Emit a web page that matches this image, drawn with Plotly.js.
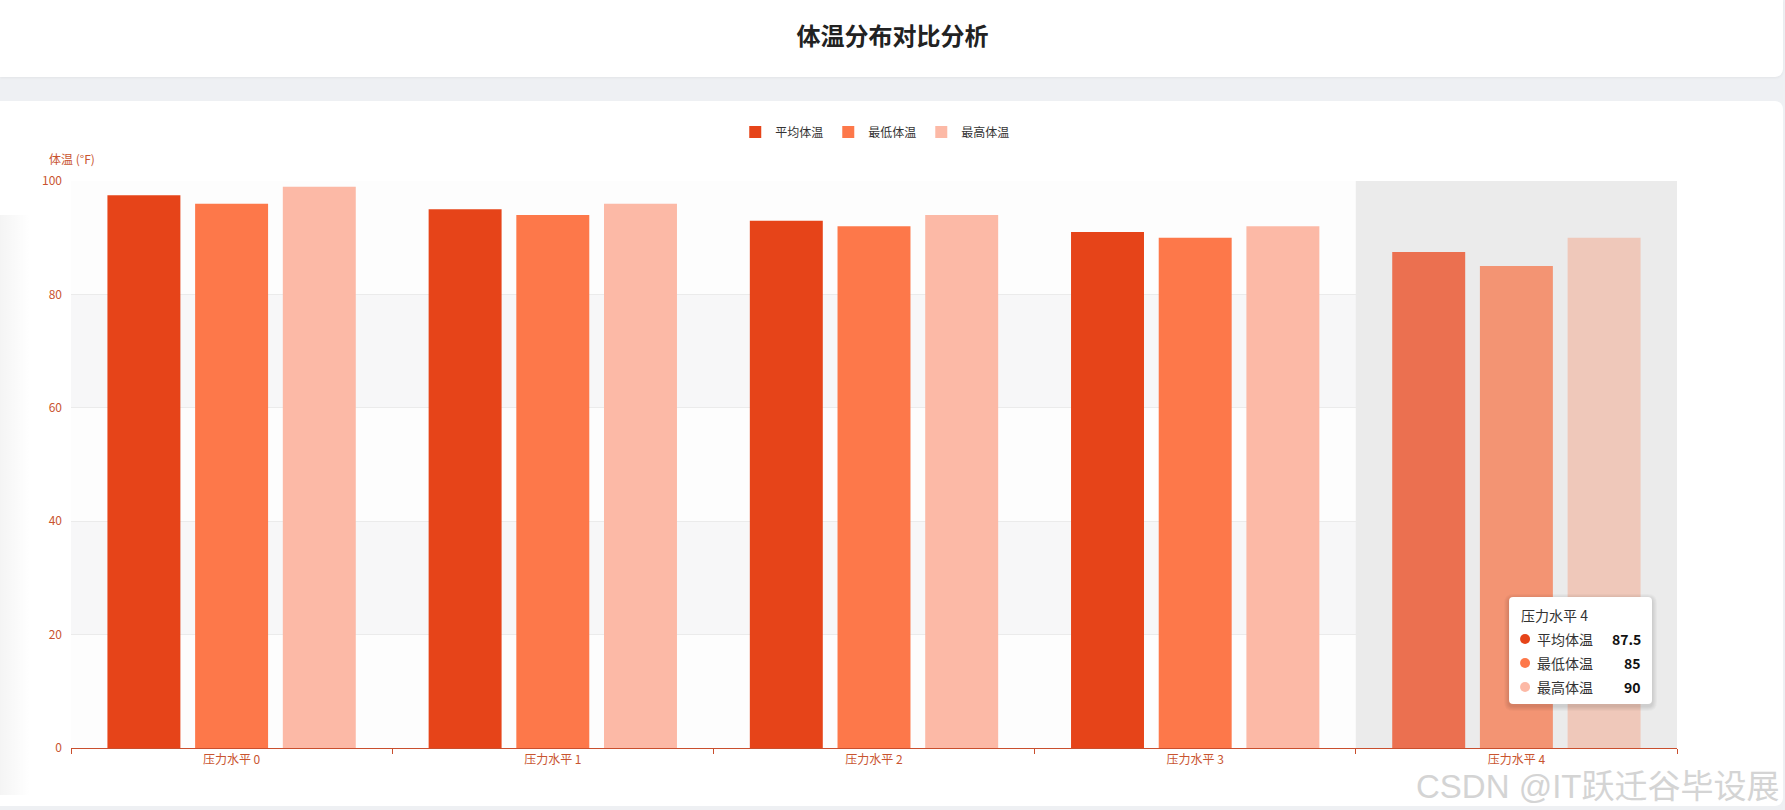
<!DOCTYPE html>
<html>
<head>
<meta charset="utf-8">
<script src="https://cdn.plot.ly/plotly-3.0.1.min.js"></script>
<style>
  html, body { margin: 0; padding: 0; width: 1785px; height: 810px; overflow: hidden; background: #eef0f3; font-family: "Noto Sans CJK SC", "Noto Sans", sans-serif; }
  #titleCard { position: absolute; left: 0; top: 0; width: 1783px; height: 77px; background: #ffffff; border-radius: 0 0 8px 0; box-shadow: 0 1px 3px rgba(0,0,0,0.05); }
  #chartCard { position: absolute; left: 0; top: 101px; width: 1783px; height: 705px; background: #ffffff; border-radius: 0 8px 8px 0; }
  #leftShade { position: absolute; left: 0; top: 215px; width: 30px; height: 580px; background: linear-gradient(to right, rgba(0,0,0,0.045), rgba(0,0,0,0)); }
  #chart { position: absolute; left: 0; top: 0; width: 1785px; height: 810px; }
</style>
</head>
<body>
<div id="titleCard"></div>
<div id="chartCard"></div>
<div id="leftShade"></div>
<div id="chart"></div>
<script>
// ---- data ----
const categories = ['压力水平 0', '压力水平 1', '压力水平 2', '压力水平 3', '压力水平 4'];
const seriesNames = ['平均体温', '最低体温', '最高体温'];
const avgTemp = [97.5, 95, 93, 91, 87.5];
const minTemp = [96, 94, 92, 90, 85];
const maxTemp = [99, 96, 94, 92, 90];
const yTicks = [0, 20, 40, 60, 80, 100];
const highlightIndex = 4;

// ---- styles ----
const baseColors = ['#e64419', '#fd784a', '#fcb9a6'];
const fadedColors = ['#eb7050', '#f39473', '#efc8ba'];
const axisColor = '#c94f2e';
const labelColor = '#c9542f';
const FONT = '"Noto Sans CJK SC", "Noto Sans", sans-serif';

// plot area in pixels
const W = 1785, H = 810;
const L = 70.5, R = 1677, T = 181, B = 748;
const px = v => (v - L) / (R - L);
const py = v => (B - v) / (B - T);

const seriesData = [avgTemp, minTemp, maxTemp];
const traces = seriesData.map((vals, s) => ({
  type: 'bar',
  name: seriesNames[s],
  x: categories,
  y: vals,
  marker: {
    color: categories.map((c, i) => i === highlightIndex ? fadedColors[s] : baseColors[s]),
    line: { width: 0 }
  },
  hoverinfo: 'none'
}));

// split area bands
const shapes = [];
for (let i = 0; i < yTicks.length - 1; i++) {
  shapes.push({
    type: 'rect', xref: 'paper', yref: 'y', x0: 0, x1: 1, y0: yTicks[i], y1: yTicks[i + 1],
    fillcolor: (i % 2 === 1) ? '#f7f7f8' : '#fdfdfd', line: { width: 0 }, layer: 'below'
  });
}
// axis pointer shadow on highlighted category
shapes.push({
  type: 'rect', xref: 'x', yref: 'y', x0: highlightIndex - 0.5, x1: highlightIndex + 0.5, y0: 0, y1: 100,
  fillcolor: '#ebebeb', line: { width: 0 }, layer: 'below'
});

// tooltip box
function roundRect(x0, y0, x1, y1, r) {
  const X = v => px(v), Y = v => py(v);
  return `M${X(x0 + r)},${Y(y0)} L${X(x1 - r)},${Y(y0)} Q${X(x1)},${Y(y0)} ${X(x1)},${Y(y0 + r)} ` +
    `L${X(x1)},${Y(y1 - r)} Q${X(x1)},${Y(y1)} ${X(x1 - r)},${Y(y1)} L${X(x0 + r)},${Y(y1)} ` +
    `Q${X(x0)},${Y(y1)} ${X(x0)},${Y(y1 - r)} L${X(x0)},${Y(y0 + r)} Q${X(x0)},${Y(y0)} ${X(x0 + r)},${Y(y0)} Z`;
}
const tx0 = 1509, ty0 = 597, tx1 = 1652, ty1 = 704;
for (let k = 5; k >= 1; k--) {
  shapes.push({ type: 'path', xref: 'paper', yref: 'paper', path: roundRect(tx0 - k, ty0 - k + 2, tx1 + k, ty1 + k + 2, 4 + k),
    fillcolor: 'rgba(0,0,0,0.022)', line: { width: 0 }, layer: 'above' });
}
shapes.push({ type: 'path', xref: 'paper', yref: 'paper', path: roundRect(tx0, ty0, tx1, ty1, 4),
  fillcolor: '#ffffff', line: { width: 0 }, layer: 'above' });

const rowY = [639, 663, 687];
const annotations = [];
annotations.push({ xref: 'paper', yref: 'paper', x: px(1519), y: py(615), xanchor: 'left', yanchor: 'middle',
  text: categories[highlightIndex], showarrow: false, font: { family: FONT, size: 14, color: '#333333' } });
seriesNames.forEach((n, s) => {
  shapes.push({ type: 'circle', xref: 'paper', yref: 'paper',
    x0: px(1525 - 5), x1: px(1525 + 5), y0: py(rowY[s] - 5), y1: py(rowY[s] + 5),
    fillcolor: baseColors[s], line: { width: 0 }, layer: 'above' });
  annotations.push({ xref: 'paper', yref: 'paper', x: px(1535), y: py(rowY[s]), xanchor: 'left', yanchor: 'middle',
    text: n, showarrow: false, font: { family: FONT, size: 14, color: '#333333' } });
  annotations.push({ xref: 'paper', yref: 'paper', x: px(1643), y: py(rowY[s]), xanchor: 'right', yanchor: 'middle',
    text: '<b>' + seriesData[s][highlightIndex] + '</b>', showarrow: false, font: { family: FONT, size: 14, color: '#111111' } });
});

// y axis name
annotations.push({ xref: 'paper', yref: 'paper', x: px(46), y: py(159), xanchor: 'left', yanchor: 'middle',
  text: '体温 (°F)', showarrow: false, font: { family: FONT, size: 12, color: labelColor } });

// watermark
annotations.push({ xref: 'paper', yref: 'paper', x: px(1782), y: py(786), xanchor: 'right', yanchor: 'middle',
  text: 'CSDN @IT跃迁谷毕设展', showarrow: false,
  font: { family: '"Liberation Sans", "Noto Sans CJK SC", sans-serif', size: 33, color: '#d4d4d4' } });

const layout = {
  width: W, height: H,
  margin: { l: L, r: W - R, t: T, b: H - B, pad: 0 },
  paper_bgcolor: 'rgba(0,0,0,0)',
  plot_bgcolor: 'rgba(0,0,0,0)',
  font: { family: FONT, size: 12, color: '#333333' },
  title: {
    text: '体温分布对比分析', xref: 'container', yref: 'container', x: 0.5, y: 1 - 37 / H,
    xanchor: 'center', yanchor: 'middle',
    font: { family: FONT, size: 24, color: '#222222', weight: 'bold' }
  },
  barmode: 'group',
  bargap: 0.181,
  bargroupgap: 0.168,
  showlegend: true,
  legend: {
    orientation: 'h', x: px(875), xanchor: 'center', y: py(132), yanchor: 'middle',
    font: { family: FONT, size: 12, color: '#333333' }, itemwidth: 30, traceorder: 'normal'
  },
  xaxis: {
    type: 'category',
    showgrid: false,
    showline: true, linecolor: axisColor, linewidth: 1,
    ticks: 'outside', tickson: 'boundaries', ticklen: 5, tickcolor: axisColor,
    tickfont: { family: FONT, size: 12, color: labelColor },
    ticklabelstandoff: 1,
    zeroline: false, fixedrange: true
  },
  yaxis: {
    range: [0, 100],
    tickvals: yTicks,
    showgrid: true, gridcolor: '#ebebeb', gridwidth: 1,
    showline: false, zeroline: false, ticks: '',
    tickfont: { family: FONT, size: 12, color: labelColor },
    ticklabelstandoff: 8,
    fixedrange: true
  },
  shapes: shapes,
  annotations: annotations,
  hovermode: false
};

Plotly.newPlot('chart', traces, layout, { displayModeBar: false, staticPlot: true });
</script>
</body>
</html>
